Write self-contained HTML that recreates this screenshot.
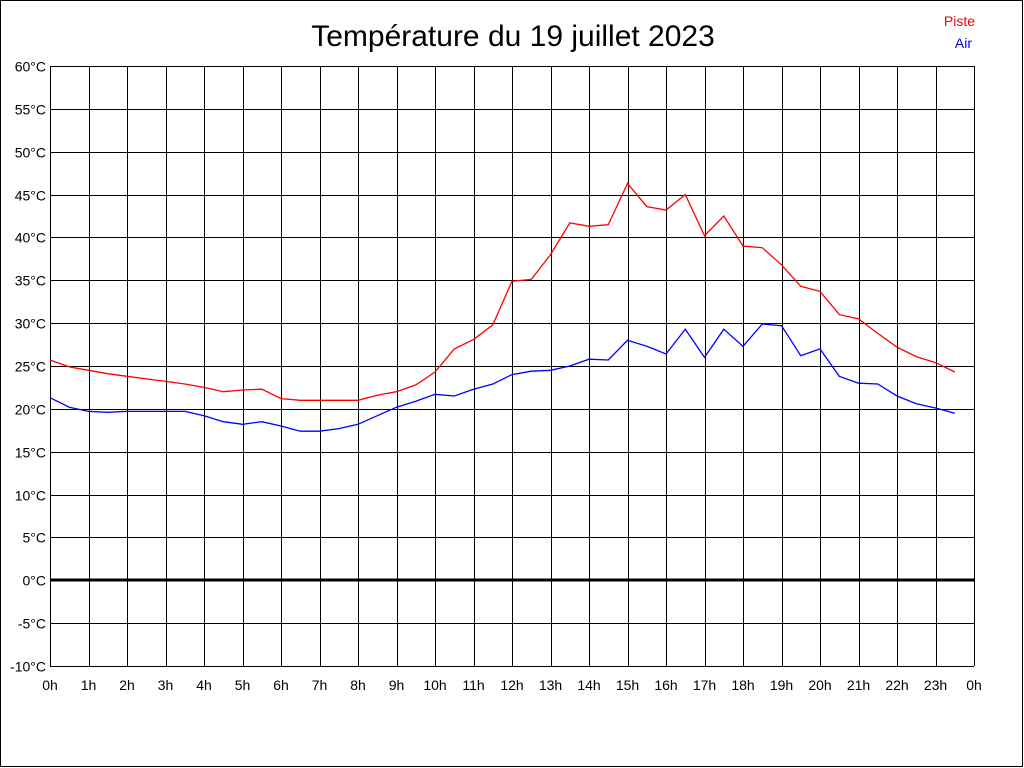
<!DOCTYPE html>
<html><head><meta charset="utf-8"><style>
html,body{margin:0;padding:0;background:#fff}
svg{display:block}
text{font-family:"Liberation Sans",Arial,sans-serif}
</style></head><body>
<svg id="s" width="1024" height="768" xmlns="http://www.w3.org/2000/svg">
<rect x="0.5" y="0.5" width="1022" height="766" fill="#fff" stroke="#000"/>
<text x="513" y="46" font-size="30" text-anchor="middle">Température du 19 juillet 2023</text>
<text x="975" y="26" font-size="14" fill="#f00" text-anchor="end">Piste</text>
<text x="972" y="48" font-size="14" fill="#00f" text-anchor="end">Air</text>
<g id="g"></g>
</svg>
<script>
var g=document.getElementById('g'),h='';
function X(t){return 50+38.5*t}function Y(v){return 580.3-600/70*v}
for(var i=0;i<=24;i++){var x=Math.round(X(i))+0.5;h+='<line x1="'+x+'" y1="66" x2="'+x+'" y2="666" stroke="#000"/>';
h+='<text x="'+X(i)+'" y="690" font-size="14" text-anchor="middle">'+(i%24)+'h</text>';}
for(var v=-10;v<=60;v+=5){var y=Math.round(Y(v))+0.5;
if(v==0)h+='<line x1="50" y1="580" x2="974" y2="580" stroke="#000" stroke-width="3"/>';
else h+='<line x1="50" y1="'+y+'" x2="974" y2="'+y+'" stroke="#000"/>';
h+='<text x="46" y="'+(y+5)+'" font-size="14" text-anchor="end">'+v+'°C</text>';}
var r=[25.7,24.9,24.5,24.1,23.8,23.5,23.2,22.9,22.5,22.0,22.2,22.3,21.2,21.0,21.0,21.0,21.0,21.6,22.0,22.8,24.3,27.0,28.1,29.8,34.9,35.1,38.0,41.7,41.3,41.5,46.3,43.6,43.2,45.0,40.2,42.5,39.0,38.8,36.8,34.3,33.7,31.0,30.5,28.8,27.2,26.1,25.4,24.3];
var b=[21.3,20.2,19.7,19.6,19.7,19.7,19.7,19.7,19.2,18.5,18.2,18.5,18.0,17.4,17.4,17.7,18.2,19.2,20.2,20.9,21.7,21.5,22.3,22.9,24.0,24.4,24.5,25.0,25.8,25.7,28.0,27.3,26.4,29.3,26.0,29.3,27.3,29.9,29.7,26.2,27.0,23.8,23.0,22.9,21.5,20.6,20.1,19.5];
function P(a,c){var p=a.map(function(v,i){return X(i/2).toFixed(1)+','+Y(v).toFixed(1)}).join(' ');return '<polyline points="'+p+'" fill="none" stroke="'+c+'" stroke-width="1.3"/>';}
h+=P(r,'#f00')+P(b,'#00f');
g.innerHTML=h;
</script>
</body></html>
